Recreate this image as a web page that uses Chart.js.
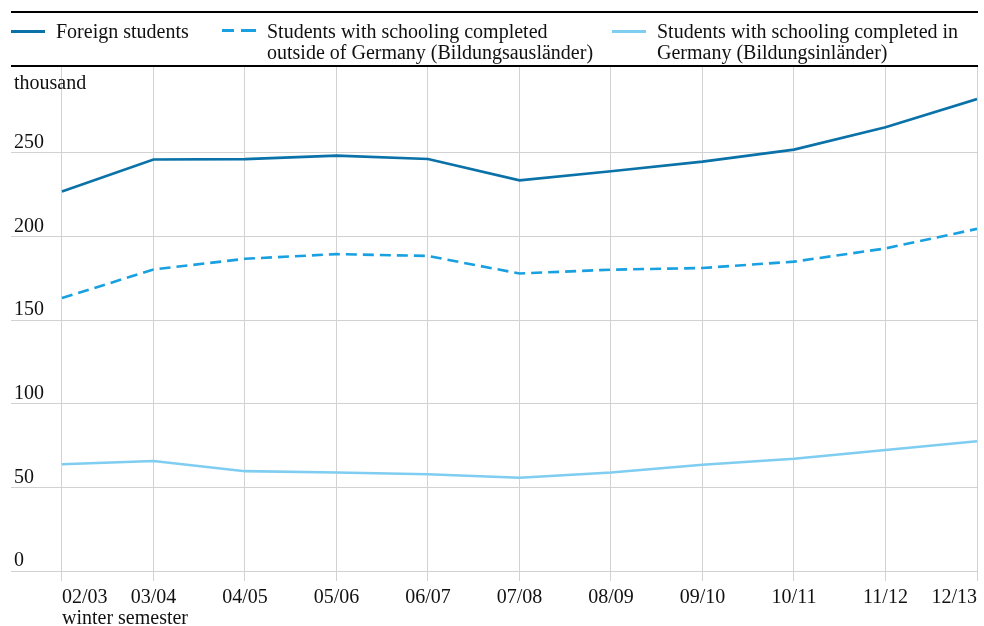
<!DOCTYPE html>
<html>
<head>
<meta charset="utf-8">
<script src="https://cdn.jsdelivr.net/npm/chart.js@4"></script>
<style>
    body { margin: 0; background: #fff; font-family: "Liberation Serif", serif; }
    #wrap { position: relative; width: 984px; height: 626px; }
    #chart { position: absolute; left: 0; top: 0; }
    .legend {
        position: absolute; left: 11px; top: 11px; width: 967px; height: 52px;
        border-top: 2px solid #000; border-bottom: 2px solid #000;
        font-size: 20px; line-height: 21px; color: #111;
    }
    .item { position: absolute; top: 8px; }
    .item .sw { position: absolute; left: 0; top: 9px; width: 34px; height: 0; border-top: 3px solid; }
    .item .tx { position: absolute; left: 45px; white-space: nowrap; }
</style>
</head>
<body>
<div id="wrap">
    <canvas id="chart" width="984" height="626"></canvas>
    <div class="legend" id="legend"></div>
</div>
<script>
    'use strict';

    var semesters = ["02/03", "03/04", "04/05", "05/06", "06/07", "07/08", "08/09", "09/10", "10/11", "11/12", "12/13"];
    var foreignStudents = [227.0, 246.1, 246.3, 248.4, 246.4, 233.6, 239.1, 244.8, 252.0, 265.3, 282.2];
    var bildungsauslaender = [163.2, 180.3, 186.7, 189.5, 188.4, 177.9, 180.2, 181.2, 185.0, 192.9, 204.6];
    var bildungsinlaender = [63.8, 65.8, 59.7, 58.9, 57.9, 55.8, 58.9, 63.5, 67.1, 72.4, 77.6];
    var yTicks = [0, 50, 100, 150, 200, 250];

    var series = [
        { label: ["Foreign students"], data: foreignStudents, color: "#0a72a8", dash: [], left: 0 },
        { label: ["Students with schooling completed", "outside of Germany (Bildungsausländer)"], data: bildungsauslaender, color: "#18a0e0", dash: [11, 6], left: 211 },
        { label: ["Students with schooling completed in", "Germany (Bildungsinländer)"], data: bildungsinlaender, color: "#7fcdf0", dash: [], left: 601 }
    ];

    function toPoints (values) {
        return values.map(function (v, i) {
            return { x: i, y: v };
        });
    }

    // html legend
    var legend = document.getElementById("legend");
    series.forEach(function (s) {
        var item = document.createElement("div");
        item.className = "item";
        item.style.left = s.left + "px";
        var sw = document.createElement("div");
        sw.className = "sw";
        sw.style.borderTopColor = s.color;
        if (s.dash.length) {
            sw.style.borderTop = "none";
            sw.style.height = "3px";
            sw.style.top = "8px";
            sw.style.background = "linear-gradient(to right, " + s.color + " 0 12px, transparent 12px 19px, " + s.color + " 19px 34px)";
        }
        var tx = document.createElement("div");
        tx.className = "tx";
        tx.innerHTML = s.label.join("<br>");
        item.appendChild(sw);
        item.appendChild(tx);
        legend.appendChild(item);
    });

    var gridColor = "#d2d2d2";
    var font = { family: "'Liberation Serif', serif", size: 20, lineHeight: 1.05 };

    var unitLabel = {
        id: "unitLabel",
        afterDraw: function (chart) {
            var ctx = chart.ctx,
                area = chart.chartArea;
            ctx.save();
            ctx.font = "20px 'Liberation Serif', serif";
            ctx.fillStyle = "#111";
            ctx.textBaseline = "middle";
            ctx.fillText("thousand", area.left + 3, area.top + 17);
            ctx.restore();
        }
    };

    new Chart(document.getElementById("chart"), {
        type: "line",
        data: {
            datasets: series.map(function (s) {
                return {
                    label: s.label.join(" "),
                    data: toPoints(s.data),
                    borderColor: s.color,
                    borderWidth: 2.6,
                    borderDash: s.dash,
                    pointRadius: 0,
                    tension: 0,
                    fill: false
                };
            })
        },
        options: {
            responsive: false,
            animation: false,
            layout: { padding: { left: 11, right: 7, top: 67, bottom: 0 } },
            plugins: { legend: { display: false }, tooltip: { enabled: false } },
            scales: {
                x: {
                    type: "linear",
                    min: -0.557,
                    max: semesters.length - 1,
                    afterBuildTicks: function (scale) {
                        scale.ticks = semesters.map(function (s, i) {
                            return { value: i };
                        });
                    },
                    afterFit: function (scale) {
                        scale.height = 55;
                    },
                    grid: { color: gridColor, lineWidth: 1, drawTicks: true, tickLength: 10 },
                    border: { display: true, color: gridColor },
                    ticks: {
                        align: "inner",
                        maxRotation: 0,
                        autoSkip: false,
                        padding: 6,
                        color: "#111",
                        font: font,
                        callback: function (v) {
                            return v === 0 ? [semesters[0], "winter semester"] : semesters[v];
                        }
                    }
                },
                y: {
                    min: 0,
                    max: 301.4,
                    afterBuildTicks: function (scale) {
                        scale.ticks = yTicks.map(function (v) {
                            return { value: v };
                        });
                    },
                    afterFit: function (scale) {
                        scale.width = 0;
                    },
                    grid: { color: gridColor, lineWidth: 1, drawTicks: false },
                    border: { display: false },
                    ticks: {
                        mirror: true,
                        padding: 3,
                        labelOffset: -10,
                        color: "#111",
                        font: font
                    }
                }
            }
        },
        plugins: [unitLabel]
    });
</script>
</body>
</html>
